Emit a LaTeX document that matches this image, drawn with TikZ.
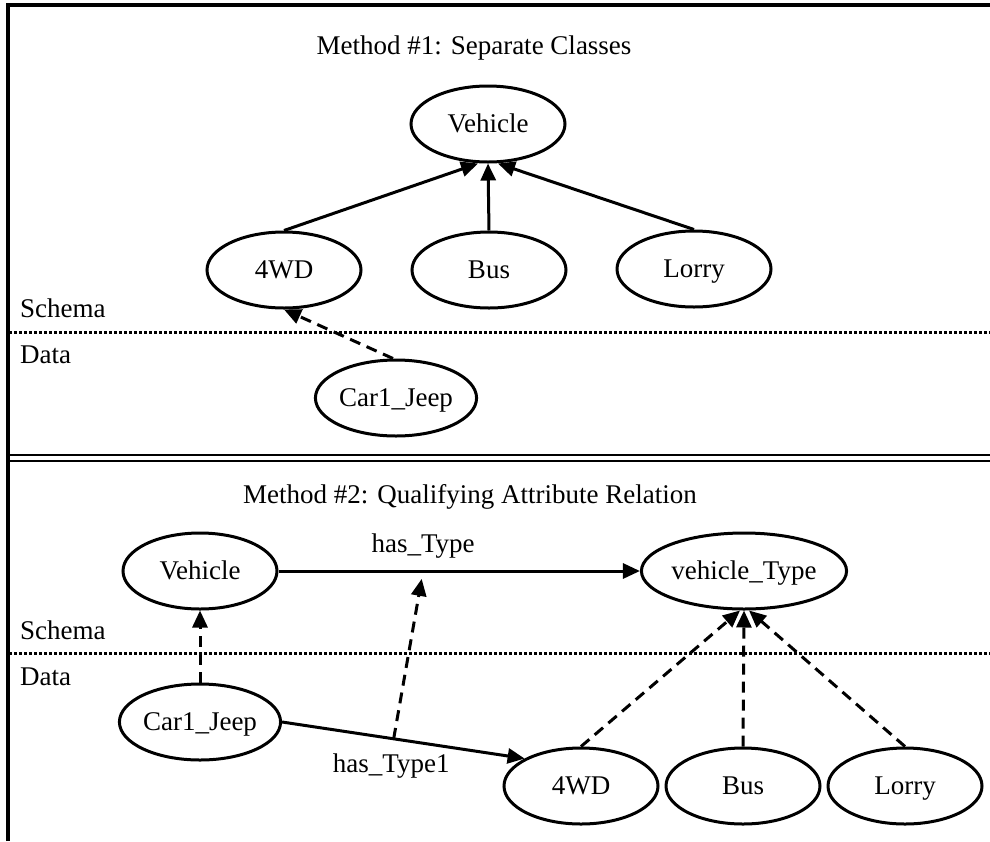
\documentclass[tikz,border=0pt]{standalone}
\usepackage{fontspec}
\setmainfont{Liberation Serif}
\usetikzlibrary{arrows.meta,shapes.geometric}
\begin{document}
\begin{tikzpicture}[x=1pt,y=-1pt,
  every node/.style={font=\fontsize{27}{31}\selectfont},
  cls/.style={ellipse,draw,line width=3pt,minimum width=154pt,minimum height=76pt,inner sep=0pt,
    text height=17.5pt,text depth=0pt},
  isa/.style={line width=3pt,-{Triangle[length=17pt,width=15pt]}},
  inst/.style={isa,dash pattern=on 11pt off 7pt},
  rel/.style={line width=3pt,-{Triangle[length=17pt,width=15pt]}},
  sep/.style={line width=3pt,dash pattern=on 2.5pt off 2.5pt},
  frame/.style={line width=3.5pt},
  lbl/.style={anchor=west,inner sep=0pt},
]
\useasboundingbox (0,0) rectangle (990,841);

% outer frame and divider between the two methods
\draw[frame] (8,841) -- (8,5) -- (990,5);
\draw[line width=2.8pt] (8,455) -- (990,455);
\draw[line width=2.8pt] (8,461) -- (990,461);

% ---------- Method 1 ----------
\node (t1) at (474,48) {Method \#1: Separate Classes};
\node[cls] (veh1) at (488,124) {Vehicle};
\node[cls] (wd1) at (284,270) {4WD};
\node[cls] (bus1) at (489,270) {Bus};
\node[cls] (lor1) at (694,269) {Lorry};
\node[cls] (jeep1) at (396,398) {Car1\_Jeep};

\draw[isa] (wd1.north) -- ([xshift=-10pt]veh1.south);
\draw[isa] (bus1.north) -- (veh1.south);
\draw[isa] (lor1.north) -- ([xshift=10pt]veh1.south);
\draw[inst] ([xshift=-3pt]jeep1.north) -- (wd1.south);

\node[lbl] (sch1) at (20,308) {Schema};
\node[lbl] (dat1) at (20,355) {Data};
\draw[sep] (9,332) -- (990,332);

% ---------- Method 2 ----------
\node (t2) at (470,497) {Method \#2: Qualifying Attribute Relation};
\node[cls] (veh2) at (200,571) {Vehicle};
\node[cls] (vt) at (744,571) {vehicle\_Type};
\node[cls] (jeep2) at (200,722) {Car1\_Jeep};
\node[cls] (wd2) at (581,786) {4WD};
\node[cls] (bus2) at (743,786) {Bus};
\node[cls] (lor2) at (905,786) {Lorry};

\draw[rel] (veh2) -- (vt) coordinate[pos=0.4] (htp)
  node[pos=0.4,yshift=25pt] (htl) {has\_Type};
\draw[rel] (jeep2.east) -- (wd2.154) coordinate[pos=0.46] (h1p)
  node[pos=0.45,yshift=-28pt] (h1l) {has\_Type1};
\draw[inst,shorten >=8pt] (h1p) -- (htp);
\draw[inst] (jeep2.north) -- (veh2.south);
\draw[inst] (wd2.north) -- ([xshift=-4pt]vt.south);
\draw[inst] (bus2.north) -- (vt.south);
\draw[inst] (lor2.north) -- ([xshift=5pt]vt.south);

\node[lbl] (sch2) at (20,630) {Schema};
\node[lbl] (dat2) at (20,677) {Data};
\draw[sep] (9,653) -- (990,653);
\end{tikzpicture}
\end{document}
